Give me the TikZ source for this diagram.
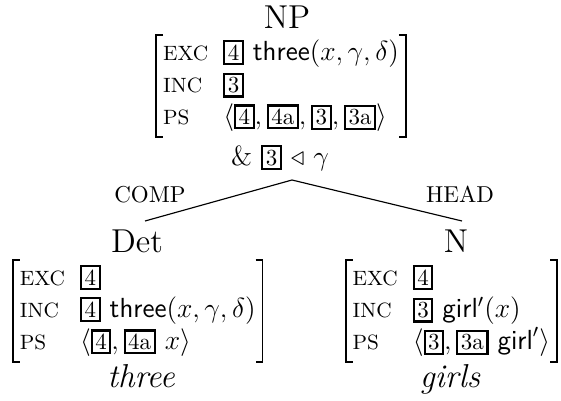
\documentclass[tikz,border=0pt]{standalone}
\usepackage{amssymb}
\newcommand{\tg}[1]{\mbox{\normalsize\setlength{\fboxsep}{1.1pt}\setlength{\fboxrule}{0.9pt}\fbox{#1}}}
\newcommand{\avmrows}[3]{\begin{tabular}{@{}l@{\hspace{6.5pt}}l@{}}
{\small EXC} & #1\\
{\small INC} & #2\\
{\small PS} & #3
\end{tabular}}
\newcommand{\brackets}[1]{%
  \draw[brk] ([xshift=3pt]#1.north west) -- (#1.north west) -- (#1.south west) -- ([xshift=3pt]#1.south west);
  \draw[brk] ([xshift=-3pt]#1.north east) -- (#1.north east) -- (#1.south east) -- ([xshift=-3pt]#1.south east);}
\begin{document}
\begin{tikzpicture}[x=0.4348pt,y=-0.4348pt,
  cat/.style={inner sep=0pt,font=\Large,anchor=base},
  lab/.style={inner sep=0pt,font=\normalsize,anchor=base},
  avm/.style={inner xsep=2.8pt,inner ysep=1pt,font=\large},
  word/.style={inner sep=0pt,font=\Large\itshape,anchor=base},
  brk/.style={line width=0.7pt},
  branch/.style={draw,line width=0.5pt}]
\useasboundingbox (0,0) rectangle (561,400);
\node[cat] (np) at (287,29) {NP};
\node[avm] (top) at (281,86) {\avmrows{\tg{4}\ \textsf{three}$(x,\gamma,\delta)$}{\tg{3}}{$\langle\tg{4},\tg{4a},\tg{3},\tg{3a}\rangle$}};
\brackets{top}
\node[inner sep=0pt,font=\large] (amp) at (280,158) {\& \tg{3} $\triangleleft$ $\gamma$};
\coordinate (apex) at (292,180);
\coordinate (lend) at (145,221);
\coordinate (rend) at (462,221);
\draw[branch] (lend) -- (apex) -- (rend);
\node[lab] (comp) at (150,202) {COMP};
\node[lab] (head) at (460,202) {HEAD};
\node[cat] (det) at (137,252) {Det};
\node[cat] (n) at (456,252) {N};
\node[avm,anchor=west] (davm) at (13,311) {\avmrows{\tg{4}}{\tg{4}\ \textsf{three}$(x,\gamma,\delta)$}{$\langle\tg{4},\tg{4a}\ x\rangle$}};
\brackets{davm}
\node[avm,anchor=east] (navm) at (557,311) {\avmrows{\tg{4}}{\tg{3}\ \textsf{girl}$'(x)$}{$\langle\tg{3},\tg{3a}\ \textsf{girl}'\rangle$}};
\brackets{navm}
\node[word] (three) at (141,387) {three};
\node[word] (girls) at (450,387) {girls};
\end{tikzpicture}
\end{document}
